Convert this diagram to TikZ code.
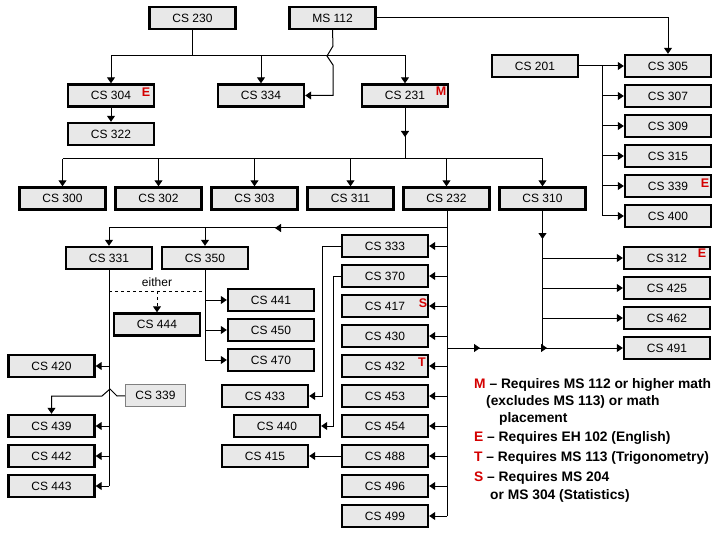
\documentclass[tikz,border=0pt]{standalone}
\usepackage{fontspec}
\setmainfont{Liberation Sans}
\usetikzlibrary{arrows.meta}
\definecolor{boxgray}{HTML}{E8E8E8}
\definecolor{lred}{HTML}{D40000}
\begin{document}
\begin{tikzpicture}[x=1pt,y=-1pt,
  box/.style={draw,line width=2.4pt,fill=boxgray,minimum width=86pt,minimum height=22pt,inner sep=0pt,font=\fontsize{12}{14}\selectfont},
  gbox/.style={draw=gray,line width=1pt,fill=boxgray,minimum width=60pt,minimum height=22pt,inner sep=0pt,font=\fontsize{12}{14}\selectfont},
  arr/.style={-{Triangle[width=8pt,length=6pt]}},
  conn/.style={line width=1pt},
  tag/.style={text=lred,font=\bfseries\fontsize{12.5}{14}\selectfont,inner sep=0pt},
  leg/.style={anchor=west,font=\bfseries\fontsize{13.8}{16}\selectfont,inner sep=0pt}]
\useasboundingbox[fill=white] (0,0) rectangle (720,540);
% nodes
\node[box] (cs230) at (192.5,18) {CS 230};
\node[box] (ms112) at (332.5,18) {MS 112};
\node[box] (cs304) at (111,95.5) {CS 304};
\node[box] (cs334) at (261,95.5) {CS 334};
\node[box] (cs231) at (405,95.5) {CS 231};
\node[box] (cs322) at (111,134) {CS 322};
\node[box] (cs201) at (535,66) {CS 201};
\node[box] (cs305) at (668,66) {CS 305};
\node[box] (cs307) at (668,96) {CS 307};
\node[box] (cs309) at (668,126) {CS 309};
\node[box] (cs315) at (668,156) {CS 315};
\node[box] (cs339) at (668,186) {CS 339};
\node[box] (cs400) at (668,216) {CS 400};
\node[box] (cs300) at (62.5,198.5) {CS 300};
\node[box] (cs302) at (158.5,198.5) {CS 302};
\node[box] (cs303) at (254.5,198.5) {CS 303};
\node[box] (cs311) at (350.5,198.5) {CS 311};
\node[box] (cs232) at (446.5,198.5) {CS 232};
\node[box] (cs310) at (542.5,198.5) {CS 310};
\node[box] (cs331) at (109,258) {CS 331};
\node[box] (cs350) at (205,258) {CS 350};
\node[box] (cs441) at (271,300) {CS 441};
\node[box] (cs450) at (271,330) {CS 450};
\node[box] (cs470) at (271,360) {CS 470};
\node[box] (cs444) at (157,324.5) {CS 444};
\node[box] (cs420) at (51.5,366) {CS 420};
\node[gbox] (cs339b) at (155.5,395.5) {CS 339};
\node[box] (cs439) at (51.5,426) {CS 439};
\node[box] (cs442) at (51.5,456) {CS 442};
\node[box] (cs443) at (51.5,486) {CS 443};
\foreach \n/\y in {333/246,370/276,417/306,430/336,432/366,453/396,454/426,488/456,496/486,499/516}
  \node[box] (cs\n) at (385,\y) {CS \n};
\node[box] (cs433) at (265,396) {CS 433};
\node[box] (cs440) at (277,426) {CS 440};
\node[box] (cs415) at (265,456) {CS 415};
\node[box] (cs312) at (667,258) {CS 312};
\node[box] (cs425) at (667,288) {CS 425};
\node[box] (cs462) at (667,318) {CS 462};
\node[box] (cs491) at (667,348) {CS 491};
% tags
\node[tag] (t1) at (146,92) {E};
\node[tag] (t2) at (441,91) {M};
\node[tag] (t3) at (705,183) {E};
\node[tag] (t4) at (702,253) {E};
\node[tag] (t5) at (423,303) {S};
\node[tag] (t6) at (422,362) {T};
% coordinates
\coordinate (b1) at (192.5,56);
\coordinate (b2) at (405,159);
\coordinate (b3) at (602,66);
\coordinate (b4) at (447,228);
\coordinate (m1) at (405,137);
\coordinate (m2) at (542.5,239);
\coordinate (m3) at (275,228);
\coordinate (m4) at (480,348);
\coordinate (m5) at (547,348);
\coordinate (d1) at (0,291);
\coordinate (d2) at (157,291);
\coordinate (c1) at (322,0);
\coordinate (c2) at (333,0);
\coordinate (hA) at (333,46);
\coordinate (hB) at (327,56);
\coordinate (hC) at (333,65);
\coordinate (hD) at (117,396);
\coordinate (hE) at (110,389);
\coordinate (hF) at (102,396);
\begin{scope}[conn]
% top level
\draw (cs230) -- (b1);
\draw[arr] (b1) -| (cs304);
\draw[arr] (b1) -| (cs231);
\draw[arr] (cs334 |- b1) -- (cs334);
\draw[arr] (ms112.south) -- (hA) -- (hB) -- (hC) |- (cs334);
\draw[arr] (ms112) -| (cs305);
\draw[arr] (cs304) -- (cs322);
% CS 231 to row
\draw (cs231) -- (b2);
\draw[arr] (cs231) -- (m1);
\draw (cs300 |- b2) -- (cs310 |- b2);
\foreach \n in {300,302,303,311,232,310}
  \draw[arr] (cs\n |- b2) -- (cs\n);
% CS 201
\draw[arr] (cs201) -- (cs305);
\foreach \n in {307,309,315,339,400}
  \draw[arr] (b3) |- (cs\n);
% CS 310
\draw (cs310) -- (cs310 |- cs491);
\draw[arr] (cs310) -- (m2);
\foreach \n in {312,425,462}
  \draw[arr] (cs310 |- cs\n) -- (cs\n);
\draw[arr] (b4 |- cs491) -- (cs491);
\draw[arr] (b4 |- cs491) -- (m4);
\draw[arr] (b4 |- cs491) -- (m5);
% CS 232 column
\draw (cs232.south -| b4) -- (b4 |- cs499);
\foreach \n in {333,370,417,430,432,453,454,488,496,499}
  \draw[arr] (b4 |- cs\n) -- (cs\n);
\draw[arr] (b4) -| (cs331);
\draw[arr] (cs350 |- b4) -- (cs350);
\draw[arr] (b4) -- (m3);
% CS 331
\draw (cs331) -- (cs331 |- cs443);
\foreach \n in {420,439,442,443}
  \draw[arr] (cs331 |- cs\n) -- (cs\n);
\draw[arr] (cs339b) -- (hD) -- (hE) -- (hF) -| (cs439);
% CS 350
\draw (cs350) -- (cs350 |- cs470);
\foreach \n in {441,450,470}
  \draw[arr] (cs350 |- cs\n) -- (cs\n);
\draw[dashed] (cs331 |- d1) -- (cs350 |- d1);
\draw[arr,dashed] (d2) -- (cs444);
\node[font=\fontsize{12}{14}\selectfont,inner sep=0pt] (either) at (157,282) {either};
% left branches of CS 232 column
\draw[arr] (cs333) -- (c1 |- cs333) |- (cs433);
\draw[arr] (cs370) -- (c2 |- cs370) |- (cs440);
\draw[arr] (cs488) -- (cs415);
\end{scope}
% legend
\node[leg] (l1) at (474,385) {\textcolor{lred}{M} – Requires MS 112 or higher math};
\node[leg] (l2) at (486,402) {(excludes MS 113) or math};
\node[leg] (l3) at (499,419) {placement};
\node[leg] (l4) at (474,438) {\textcolor{lred}{E} – Requires EH 102 (English)};
\node[leg] (l5) at (474,458) {\textcolor{lred}{T} – Requires MS 113 (Trigonometry)};
\node[leg] (l6) at (474,478) {\textcolor{lred}{S} – Requires MS 204};
\node[leg] (l7) at (490,496) {or MS 304 (Statistics)};
\end{tikzpicture}
\end{document}
